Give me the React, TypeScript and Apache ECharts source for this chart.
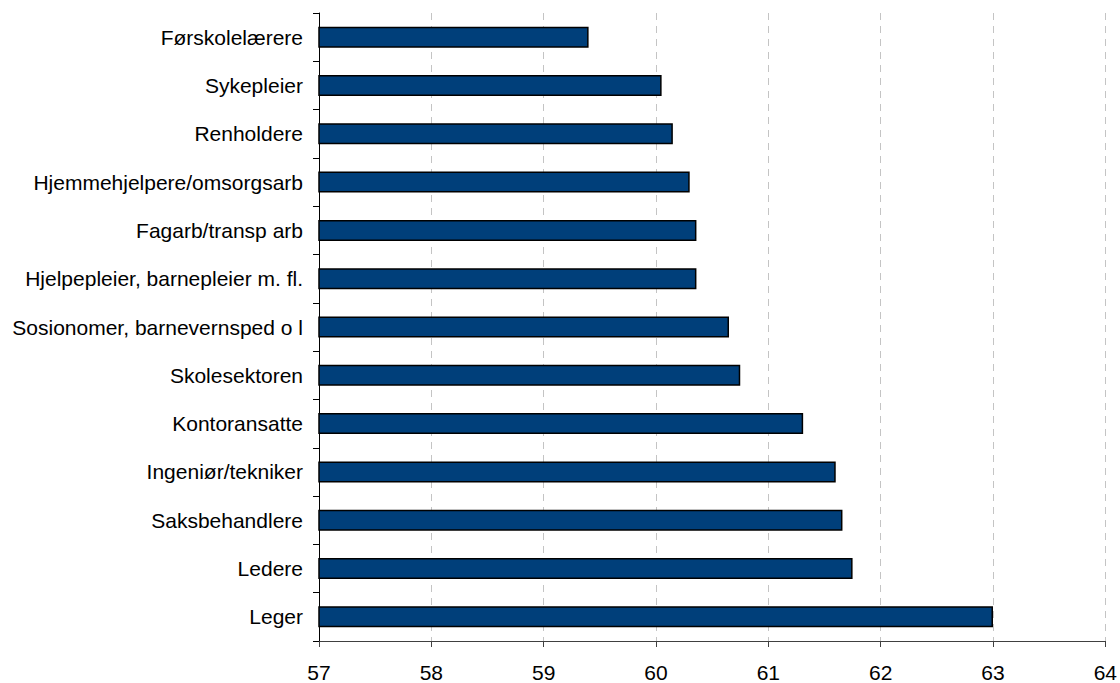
import React, { useEffect, useRef } from "react";
import * as echarts from "echarts";

// Occupational groups, top to bottom
const categories: string[] = [
  "Førskolelærere",
  "Sykepleier",
  "Renholdere",
  "Hjemmehjelpere/omsorgsarb",
  "Fagarb/transp arb",
  "Hjelpepleier, barnepleier m. fl.",
  "Sosionomer, barnevernsped o l",
  "Skolesektoren",
  "Kontoransatte",
  "Ingeniør/tekniker",
  "Saksbehandlere",
  "Ledere",
  "Leger",
];

// Average age per group
const values: number[] = [
  59.4, 60.05, 60.15, 60.3, 60.36, 60.36, 60.65, 60.75, 61.31, 61.6, 61.66, 61.75, 63.0,
];

const xMin = 57;
const xMax = 64;
const xStep = 1;

export default function App() {
  const ref = useRef<HTMLDivElement>(null);

  useEffect(() => {
    if (!ref.current) return;
    const chart = echarts.init(ref.current, undefined, { renderer: "svg" });
    const font = "Liberation Sans, Arial, Helvetica, sans-serif";
    chart.setOption({
      animation: false,
      backgroundColor: "#ffffff",
      grid: { left: 319, right: 13, top: 13, bottom: 40, containLabel: false },
      xAxis: {
        type: "value",
        min: xMin,
        max: xMax,
        interval: xStep,
        axisLine: { show: true, lineStyle: { color: "#404040", width: 1 } },
        axisTick: { show: true, length: 6, lineStyle: { color: "#404040" } },
        axisLabel: { color: "#000", fontSize: 21, fontFamily: font, margin: 21 },
        splitLine: {
          show: true,
          lineStyle: { color: "#c4c4c4", type: [7, 6], width: 1 },
        },
      },
      yAxis: {
        type: "category",
        data: categories,
        inverse: true,
        axisLine: { show: true, lineStyle: { color: "#000", width: 1 } },
        axisTick: { show: true, length: 6, alignWithLabel: false, lineStyle: { color: "#000" } },
        axisLabel: { color: "#000", fontSize: 21, fontFamily: font, margin: 16 },
        splitLine: { show: false },
      },
      series: [
        {
          type: "bar",
          data: values,
          barWidth: 21,
          itemStyle: { color: "#003f7a", borderColor: "#000", borderWidth: 1.5 },
        },
      ],
    });
    return () => chart.dispose();
  }, []);

  return (
    <div
      ref={ref}
      style={{ position: "fixed", left: 0, top: 0, width: 1120, height: 683, background: "#fff" }}
    />
  );
}
